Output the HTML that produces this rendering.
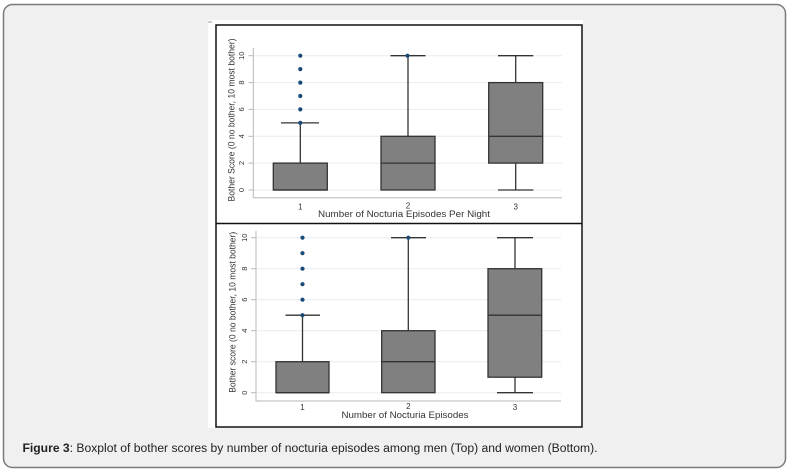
<!DOCTYPE html>
<html>
<head>
<meta charset="utf-8">
<style>
  html,body{margin:0;padding:0;background:#ffffff;}
  body{width:790px;height:473px;overflow:hidden;}
  svg{display:block;}
  text{font-family:"Liberation Sans",Arial,sans-serif;}
</style>
</head>
<body>
<svg width="790" height="473" viewBox="0 0 790 473" xmlns="http://www.w3.org/2000/svg">
  <!-- outer card -->
  <rect x="0" y="0" width="790" height="473" fill="#ffffff"/>
  <rect x="3.5" y="4.5" width="782" height="463" rx="9" ry="9" fill="#f0f0f0" stroke="#7a7a7a" stroke-width="1.5"/>

  <!-- image white area -->
  <rect x="208" y="20" width="375" height="408" fill="#ffffff"/>
  <line x1="208" y1="22" x2="212" y2="22" stroke="#999" stroke-width="1"/>
  <!-- frame -->
  <rect x="216" y="25" width="366" height="402" fill="none" stroke="#111" stroke-width="1.5"/>
  <line x1="216" y1="223.5" x2="582" y2="223.5" stroke="#111" stroke-width="1.5"/>

  <!-- ================= TOP PANEL ================= -->
  <g>
    <!-- gridlines -->
    <g stroke="#e6eef0" stroke-width="1">
      <line x1="254" y1="55.7" x2="562" y2="55.7"/>
      <line x1="254" y1="82.6" x2="562" y2="82.6"/>
      <line x1="254" y1="109.4" x2="562" y2="109.4"/>
      <line x1="254" y1="136.3" x2="562" y2="136.3"/>
      <line x1="254" y1="163.1" x2="562" y2="163.1"/>
      <line x1="254" y1="190" x2="562" y2="190"/>
    </g>
    <!-- axes -->
    <line x1="253.3" y1="48" x2="253.3" y2="198" stroke="#b8b8b8" stroke-width="1"/>
    <line x1="253" y1="197.7" x2="562" y2="197.7" stroke="#b8b8b8" stroke-width="1"/>
    <g stroke="#b8b8b8" stroke-width="1">
      <line x1="248.5" y1="55.7" x2="253.3" y2="55.7"/>
      <line x1="248.5" y1="82.6" x2="253.3" y2="82.6"/>
      <line x1="248.5" y1="109.4" x2="253.3" y2="109.4"/>
      <line x1="248.5" y1="136.3" x2="253.3" y2="136.3"/>
      <line x1="248.5" y1="163.1" x2="253.3" y2="163.1"/>
      <line x1="248.5" y1="190" x2="253.3" y2="190"/>
    </g>
    <!-- y tick labels -->
    <g font-size="7.5" fill="#333" text-anchor="middle">
      <text transform="translate(244,55.7) rotate(-90)">10</text>
      <text transform="translate(244,82.6) rotate(-90)">8</text>
      <text transform="translate(244,109.4) rotate(-90)">6</text>
      <text transform="translate(244,136.3) rotate(-90)">4</text>
      <text transform="translate(244,163.1) rotate(-90)">2</text>
      <text transform="translate(244,190) rotate(-90)">0</text>
    </g>
    <!-- y title -->
    <text transform="translate(234.5,120) rotate(-90)" font-size="9" fill="#333" text-anchor="middle" textLength="163" lengthAdjust="spacingAndGlyphs">Bother Score (0 no bother, 10 most bother)</text>
    <!-- x tick labels -->
    <g font-size="8" fill="#333" text-anchor="middle">
      <text x="300.3" y="209.5">1</text>
      <text x="408" y="208.5">2</text>
      <text x="515.7" y="209.5">3</text>
    </g>
    <text x="404" y="217" font-size="8.8" fill="#333" text-anchor="middle" textLength="172" lengthAdjust="spacingAndGlyphs">Number of Nocturia Episodes Per Night</text>

    <!-- box 1 -->
    <g stroke="#333" stroke-width="1.3">
      <line x1="300.3" y1="163.1" x2="300.3" y2="122.9"/>
      <line x1="281" y1="122.9" x2="319" y2="122.9"/>
      <rect x="273.3" y="163.1" width="54" height="26.9" fill="#808080"/>
      <line x1="273.3" y1="190" x2="327.3" y2="190"/>
    </g>
    <!-- box 2 -->
    <g stroke="#333" stroke-width="1.3">
      <line x1="408" y1="136.3" x2="408" y2="55.7"/>
      <line x1="390.5" y1="55.7" x2="425.5" y2="55.7"/>
      <rect x="381" y="136.3" width="54" height="53.7" fill="#808080"/>
      <line x1="381" y1="163.1" x2="435" y2="163.1"/>
    </g>
    <!-- box 3 -->
    <g stroke="#333" stroke-width="1.3">
      <line x1="515.7" y1="82.6" x2="515.7" y2="55.7"/>
      <line x1="498" y1="55.7" x2="533.3" y2="55.7"/>
      <line x1="515.7" y1="163.1" x2="515.7" y2="190"/>
      <line x1="498" y1="190" x2="533.3" y2="190"/>
      <rect x="488.7" y="82.6" width="54" height="80.5" fill="#808080"/>
      <line x1="488.7" y1="136.3" x2="542.7" y2="136.3"/>
    </g>
    <!-- outliers -->
    <g fill="#1b4a78">
      <circle cx="300.3" cy="55.7" r="2.1"/>
      <circle cx="300.3" cy="69.1" r="2.1"/>
      <circle cx="300.3" cy="82.6" r="2.1"/>
      <circle cx="300.3" cy="96" r="2.1"/>
      <circle cx="300.3" cy="109.4" r="2.1"/>
      <circle cx="300.3" cy="122.9" r="2.1"/>
      <circle cx="407.5" cy="55.7" r="2.1"/>
    </g>
  </g>

  <!-- ================= BOTTOM PANEL ================= -->
  <g>
    <g stroke="#e6eef0" stroke-width="1">
      <line x1="257" y1="237.7" x2="561" y2="237.7"/>
      <line x1="257" y1="268.7" x2="561" y2="268.7"/>
      <line x1="257" y1="299.7" x2="561" y2="299.7"/>
      <line x1="257" y1="330.7" x2="561" y2="330.7"/>
      <line x1="257" y1="361.7" x2="561" y2="361.7"/>
      <line x1="257" y1="392.7" x2="561" y2="392.7"/>
    </g>
    <line x1="256" y1="231" x2="256" y2="401.5" stroke="#b8b8b8" stroke-width="1"/>
    <line x1="256" y1="401" x2="561" y2="401" stroke="#b8b8b8" stroke-width="1"/>
    <g stroke="#b8b8b8" stroke-width="1">
      <line x1="251" y1="237.7" x2="256" y2="237.7"/>
      <line x1="251" y1="268.7" x2="256" y2="268.7"/>
      <line x1="251" y1="299.7" x2="256" y2="299.7"/>
      <line x1="251" y1="330.7" x2="256" y2="330.7"/>
      <line x1="251" y1="361.7" x2="256" y2="361.7"/>
      <line x1="251" y1="392.7" x2="256" y2="392.7"/>
    </g>
    <g font-size="7.5" fill="#333" text-anchor="middle">
      <text transform="translate(246.8,237.7) rotate(-90)">10</text>
      <text transform="translate(246.8,268.7) rotate(-90)">8</text>
      <text transform="translate(246.8,299.7) rotate(-90)">6</text>
      <text transform="translate(246.8,330.7) rotate(-90)">4</text>
      <text transform="translate(246.8,361.7) rotate(-90)">2</text>
      <text transform="translate(246.8,392.7) rotate(-90)">0</text>
    </g>
    <text transform="translate(235.5,312.3) rotate(-90)" font-size="9" fill="#333" text-anchor="middle" textLength="161" lengthAdjust="spacingAndGlyphs">Bother score (0 no bother, 10 most bother)</text>
    <g font-size="8" fill="#333" text-anchor="middle">
      <text x="302.5" y="410">1</text>
      <text x="408.3" y="409">2</text>
      <text x="515" y="410">3</text>
    </g>
    <text x="405" y="418" font-size="8.8" fill="#333" text-anchor="middle" textLength="127" lengthAdjust="spacingAndGlyphs">Number of Nocturia Episodes</text>

    <!-- box 1 -->
    <g stroke="#333" stroke-width="1.3">
      <line x1="302.5" y1="361.7" x2="302.5" y2="315.2"/>
      <line x1="285.5" y1="315.2" x2="320" y2="315.2"/>
      <rect x="276" y="361.7" width="53" height="31" fill="#808080"/>
      <line x1="276" y1="392.7" x2="329" y2="392.7"/>
    </g>
    <!-- box 2 -->
    <g stroke="#333" stroke-width="1.3">
      <line x1="408.3" y1="330.7" x2="408.3" y2="237.7"/>
      <line x1="391" y1="237.7" x2="426" y2="237.7"/>
      <rect x="381.7" y="330.7" width="53.3" height="62" fill="#808080"/>
      <line x1="381.7" y1="361.7" x2="435" y2="361.7"/>
    </g>
    <!-- box 3 -->
    <g stroke="#333" stroke-width="1.3">
      <line x1="515" y1="268.7" x2="515" y2="237.7"/>
      <line x1="497" y1="237.7" x2="533" y2="237.7"/>
      <line x1="515" y1="377.2" x2="515" y2="392.7"/>
      <line x1="497" y1="392.7" x2="533" y2="392.7"/>
      <rect x="488" y="268.7" width="53.7" height="108.5" fill="#808080"/>
      <line x1="488" y1="315.2" x2="541.7" y2="315.2"/>
    </g>
    <g fill="#1b4a78">
      <circle cx="302.5" cy="237.7" r="2.1"/>
      <circle cx="302.5" cy="253.2" r="2.1"/>
      <circle cx="302.5" cy="268.7" r="2.1"/>
      <circle cx="302.5" cy="284.2" r="2.1"/>
      <circle cx="302.5" cy="299.7" r="2.1"/>
      <circle cx="302.5" cy="315.2" r="2.1"/>
      <circle cx="408.3" cy="237.7" r="2.1"/>
    </g>
  </g>

  <!-- caption -->
  <text x="22.5" y="452" font-size="11.5" fill="#222" textLength="575" lengthAdjust="spacingAndGlyphs"><tspan font-weight="bold">Figure 3</tspan>: Boxplot of bother scores by number of nocturia episodes among men (Top) and women (Bottom).</text>
</svg>
</body>
</html>
